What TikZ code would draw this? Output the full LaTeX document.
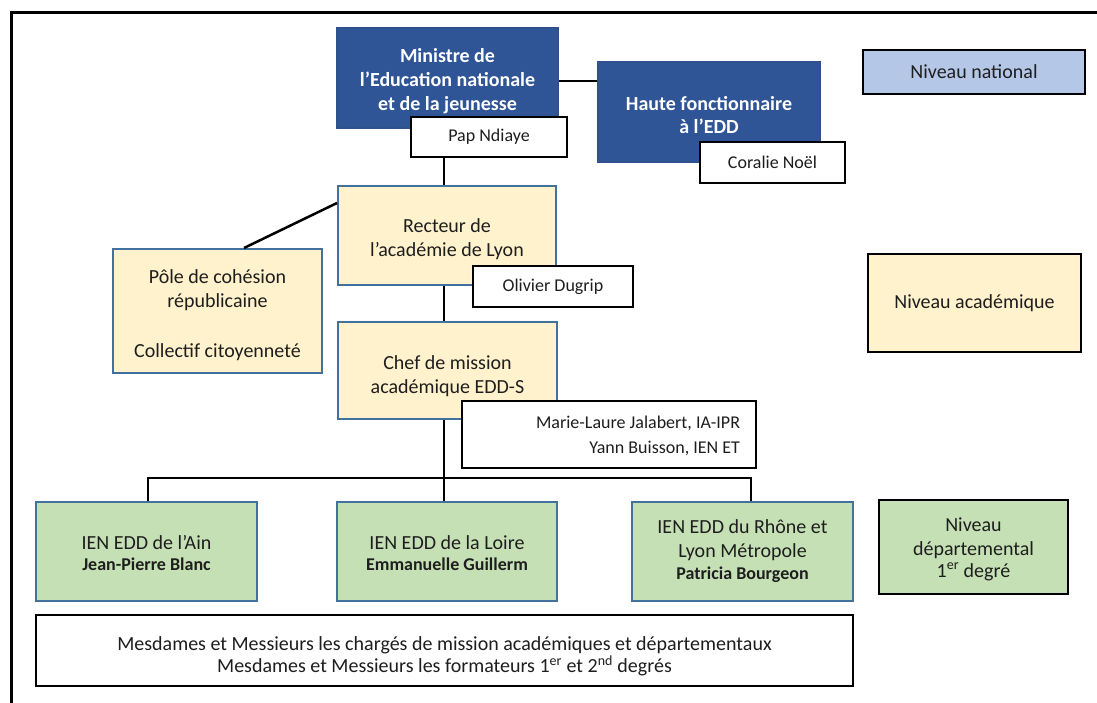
\documentclass[tikz,border=0pt]{standalone}
\usepackage{fontspec}
\setmainfont{Carlito}
\definecolor{dkblue}{HTML}{2F5597}
\definecolor{dkbord}{HTML}{2F528F}
\definecolor{cream}{HTML}{FFF2CC}
\definecolor{steel}{HTML}{41719C}
\definecolor{lgreen}{HTML}{C5E0B4}
\definecolor{lblue}{HTML}{B4C7E7}
\definecolor{txt}{HTML}{1E1E1E}
\newcommand\lowered[3]{\raisebox{-#1}[\height][\depth]{\parbox{#2}{\centering #3}}}
\begin{document}
\begin{tikzpicture}[x=1pt,y=-1pt,
  base/.style={inner sep=0pt, align=center, text=txt, font=\fontsize{20}{24}\selectfont},
  bluebox/.style={base, fill=dkblue, draw=dkbord, line width=1.5pt, text=white, font=\fontsize{20}{24}\selectfont\bfseries},
  namebox/.style={base, fill=white, draw=black, line width=2.5pt, font=\fontsize{18}{24}\selectfont},
  creambox/.style={base, fill=cream, draw=steel, line width=2pt},
  greenbox/.style={base, fill=lgreen, draw=steel, line width=2pt},
  levelbox/.style={base, draw=black, line width=2.5pt},
  link/.style={line width=2.5pt, draw=black}
]
\useasboundingbox (0,0) rectangle (1097,702);
\fill[white] (0,0) rectangle (1097,702);
% outer frame
\draw[line width=3pt] (11,715) -- (11,12) -- (1110,12);

% spine coordinates
\coordinate (sp) at (444,0);
\coordinate (busL) at (148,478);
\coordinate (busR) at (751,478);

% national level
\node[bluebox, minimum width=221pt, minimum height=100pt] (mini) at (447.5,78) {\lowered{3.5pt}{210pt}{Ministre de\\l’Education nationale\\et de la jeunesse}};
\node[bluebox, minimum width=222pt, minimum height=100pt] (haute) at (709,112) {\lowered{3.5pt}{200pt}{Haute fonctionnaire\\[-1pt]à l’EDD}};
\node[namebox, minimum width=156pt, minimum height=40pt] (pap) at (489,137) {Pap Ndiaye};
\node[namebox, minimum width=145pt, minimum height=41pt] (coralie) at (772.5,162.5) {Coralie Noël};
\node[levelbox, fill=lblue, minimum width=222pt, minimum height=44pt] (natl) at (974,72) {Niveau national};

% academic level
\node[creambox, minimum width=218pt, minimum height=99pt] (recteur) at (447,235.5) {\lowered{3.5pt}{210pt}{Recteur de\\l’académie de Lyon}};
\node[namebox, minimum width=160pt, minimum height=41pt] (olivier) at (553,286.5) {Olivier Dugrip};
\node[creambox, minimum width=209pt, minimum height=124pt] (pole) at (217.5,311) {\lowered{4pt}{200pt}{Pôle de cohésion\\républicaine\\[26pt]Collectif citoyenneté}};
\node[creambox, minimum width=219pt, minimum height=97pt] (chef) at (447.5,370.5) {\lowered{6pt}{210pt}{Chef de mission\\académique EDD-S}};
\node[namebox, minimum width=294pt, minimum height=67pt] (marie) at (609,434.5) {\lowered{1pt}{262pt}{\raggedleft Marie-Laure Jalabert, IA-IPR\hspace*{27pt}\\[1pt]Yann Buisson, IEN ET}};
\node[levelbox, fill=cream, minimum width=213pt, minimum height=98pt] (acad) at (974.5,303) {Niveau académique};

% departmental level
\node[greenbox, minimum width=221pt, minimum height=99pt] (ain) at (146.5,551.5) {\lowered{2pt}{210pt}{IEN EDD de l’Ain\\[-3pt]{\fontsize{18}{22}\selectfont\bfseries Jean-Pierre Blanc}}};
\node[greenbox, minimum width=220pt, minimum height=99pt] (loire) at (447,551.5) {\lowered{2pt}{210pt}{IEN EDD de la Loire\\[-3pt]{\fontsize{18}{22}\selectfont\bfseries Emmanuelle Guillerm}}};
\node[greenbox, minimum width=221pt, minimum height=99pt] (rhone) at (742.5,551.5) {IEN EDD du Rhône et\\Lyon Métropole\\[-2pt]{\fontsize{18}{22}\selectfont\bfseries Patricia Bourgeon}};
\node[levelbox, fill=lgreen, minimum width=189pt, minimum height=94pt] (dep) at (973.5,547) {\lowered{2pt}{180pt}{Niveau\\départemental\\[-2pt]1\textsuperscript{er} degré}};

% bottom box
\node[levelbox, fill=white, minimum width=817pt, minimum height=71pt] (bottom) at (444.5,650.5) {\lowered{6pt}{800pt}{Mesdames et Messieurs les chargés de mission académiques et départementaux\\[-2pt]Mesdames et Messieurs les formateurs 1\textsuperscript{er} et 2\textsuperscript{nd} degrés}};

% connectors
\draw[link] ([yshift=-3pt]mini.east) -- ([yshift=-3pt]mini.east -| haute.west);
\draw[link] (pap.south -| sp) -- (recteur.north -| sp);
\draw[link] (recteur.south -| sp) -- (chef.north -| sp);
\draw[link] (chef.south -| sp) -- (loire.north -| sp);
\draw[link] (ain.north -| busL) -- (busL) -- (busR) -- (rhone.north -| busR);
\draw[link] ([xshift=26.5pt]pole.north) -- ([yshift=32.5pt]recteur.west);
\end{tikzpicture}
\end{document}
